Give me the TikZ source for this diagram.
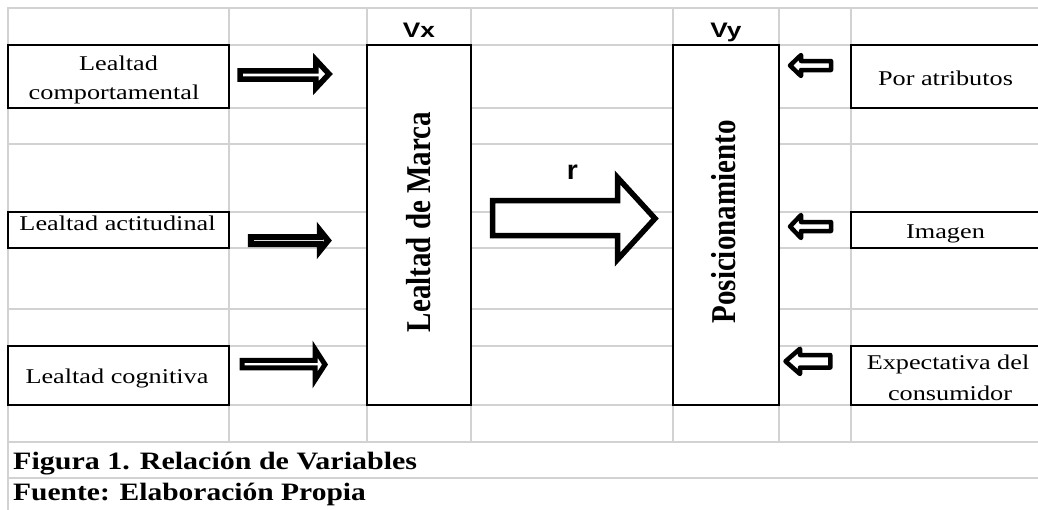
\documentclass[tikz,border=0pt]{standalone}
\usepackage{fontspec}
\setmainfont{Liberation Serif}
\setsansfont{Liberation Sans}
\usepackage{graphicx}
\definecolor{gridc}{RGB}{210,210,210}
\newcommand{\hs}[2][1.25]{\scalebox{#1}[1]{#2}}
\begin{document}
\begin{tikzpicture}[x=1pt,y=-1pt,
  gridline/.style={draw=gridc, line width=1.5pt},
  box/.style={draw=black, line width=2pt, fill=white, inner sep=0pt},
  lbl/.style={inner sep=0pt, anchor=base, font=\fontsize{21}{24}\selectfont},
  blk/.style={draw=black, fill=white, line width=5.5pt, miter limit=10},
  rblk/.style={draw=black, fill=white, line width=4.5pt, line join=round},
  hdr/.style={inner sep=0pt, anchor=base, font=\sffamily\bfseries\fontsize{21}{24}\selectfont},
  vtx/.style={inner sep=0pt, rotate=90, font=\bfseries\fontsize{29}{32}\selectfont},
  captxt/.style={inner sep=0pt, anchor=base west, font=\bfseries\fontsize{25}{28}\selectfont}]

\clip (0,0) rectangle (1038,509);
\fill[white] (0,0) rectangle (1038,509);

% spreadsheet grid
\foreach \yy in {8,45,108,144,212,248,309,346,405,442,478}
  \draw[gridline] (7,\yy) -- (1040,\yy);
\draw[gridline] (8,8) -- (8,512);
\foreach \xx in {229,367,471,673,779,851}
  \draw[gridline] (\xx,8) -- (\xx,442);

% boxes
\node[box, minimum width=221pt, minimum height=63pt] (lc) at (118.5,76.5) {};
\node[box, minimum width=221pt, minimum height=36pt] (la) at (118.5,230) {};
\node[box, minimum width=221pt, minimum height=59pt] (lg) at (118.5,375.5) {};
\node[box, minimum width=104pt, minimum height=360pt] (vx) at (419,225) {};
\node[box, minimum width=106pt, minimum height=360pt] (vy) at (726,225) {};
\node[box, minimum width=194pt, minimum height=63pt] (rp) at (948,76.5) {};
\node[box, minimum width=194pt, minimum height=36pt] (ri) at (948,230) {};
\node[box, minimum width=194pt, minimum height=59pt] (re) at (948,375.5) {};

% box texts
\node[lbl] (t1a) at (118.5,70) {\hs{Lealtad}};
\node[lbl] (t1b) at (114,99.5) {\hs{comportamental}};
\node[lbl] (t2) at (117.5,230) {\hs{Lealtad actitudinal}};
\node[lbl] (t3) at (117,383.3) {\hs{Lealtad cognitiva}};
\node[lbl] (t4) at (945.5,85.7) {\hs{Por atributos}};
\node[lbl] (t5) at (945.5,238) {\hs{Imagen}};
\node[lbl] (t6a) at (948,369.3) {\hs{Expectativa del}};
\node[lbl] (t6b) at (950,400) {\hs{consumidor}};

% headers
\node[hdr] (hx) at (419,37) {\hs{Vx}};
\node[hdr] (hy) at (726,37) {\hs{Vy}};
\node[hdr, font=\sffamily\bfseries\fontsize{27}{30}\selectfont] (hr) at (572.5,179) {\hs[1.05]{r}};

% rotated titles
\node[vtx] (vm) at (418.5,222) {\scalebox{1}[1.2]{Lealtad de Marca}};
\node[vtx] (vp) at (723.5,222) {\scalebox{1}[1.2]{Posicionamiento}};

% left block arrows
\draw[blk] (240.2,70.8) -- (315.8,70.8) -- (315.8,59.8) -- (329,74) -- (315.8,88.2) -- (315.8,79.2) -- (240.2,79.2) -- cycle;
\draw[blk, line width=6pt] (250.75,237) -- (319.75,237) -- (319.75,230.25) -- (328,240.5) -- (319.75,250.75) -- (319.75,244) -- (250.75,244) -- cycle;
\draw[blk, line width=5pt] (242,360.25) -- (315,360.25) -- (315,349) -- (325,364.5) -- (315,380) -- (315,367.75) -- (242,367.75) -- cycle;

% big arrow r
\draw[blk] (492.5,200.5) -- (617.5,200.5) -- (617.5,177.5) -- (655,218.5) -- (617.5,259.5) -- (617.5,235.5) -- (492.5,235.5) -- cycle;

% right block arrows
\draw[rblk] (790,65.5) -- (801,55) -- (801,61) -- (831,61) -- (831,70) -- (801,70) -- (801,76) -- cycle;
\draw[rblk] (790,226.5) -- (801,215) -- (801,222) -- (831,222) -- (831,231) -- (801,231) -- (801,238) -- cycle;
\draw[rblk] (785.5,361.3) -- (800,348.7) -- (800,355) -- (830.3,355) -- (830.3,367.5) -- (800,367.5) -- (800,374) -- cycle;

% captions
\node[captxt] (c1) at (13,469) {\hs[1.2]{Figura 1. Relación de Variables}};
\node[captxt] (c2) at (13,500) {\hs[1.18]{Fuente: Elaboración Propia}};
\end{tikzpicture}
\end{document}
